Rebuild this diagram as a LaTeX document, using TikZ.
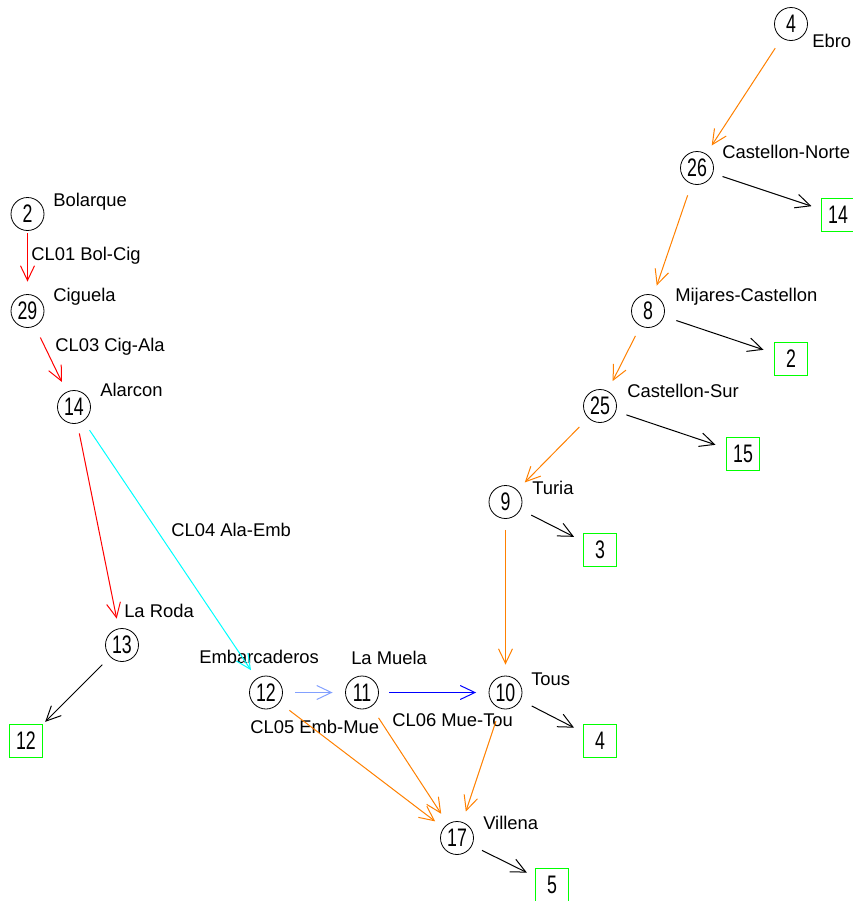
\documentclass[tikz,border=0pt]{standalone}
\usepackage{fontspec}
\setmainfont{Liberation Sans}
\newfontfamily\numfont[FakeStretch=0.7]{Liberation Sans}
\usetikzlibrary{arrows.meta}
\definecolor{cOrange}{RGB}{255,128,0}
\definecolor{cLightBlue}{RGB}{130,160,255}
\definecolor{cGreen}{RGB}{0,255,0}
\definecolor{cCyan}{RGB}{0,255,255}
\definecolor{cRed}{RGB}{255,0,0}
\definecolor{cBlue}{RGB}{0,0,255}
\tikzset{
  px/.style={x=0.75pt,y=-0.75pt},
  res/.style={circle,draw=black,line width=0.6pt,minimum size=24.75pt,inner sep=0pt,
    font=\numfont\fontsize{19}{19}\selectfont},
  outbox/.style={rectangle,draw=cGreen,line width=0.8pt,minimum size=24.75pt,inner sep=0pt,
    font=\numfont\fontsize{19}{19}\selectfont},
  lbl/.style={anchor=base west,inner sep=0pt,font=\fontsize{13.8}{16}\selectfont},
  conn/.style={line width=0.75pt,-{Straight Barb[length=11pt,width=10.5pt,line width=0.75pt]},
    shorten <=8.25pt,shorten >=8.25pt},
}
\begin{document}
\begin{tikzpicture}[px]
\useasboundingbox (0,0) rectangle (853,901);
% reservoirs
\node[res] (n4)  at (791,24)  {4};
\node[res] (n26) at (697,168) {26};
\node[res] (n8)  at (648,311) {8};
\node[res] (n25) at (600,406) {25};
\node[res] (n9)  at (505.5,502) {9};
\node[res] (n10) at (505.5,692.5) {10};
\node[res] (n17) at (457,838) {17};
\node[res] (n11) at (362,692.5) {11};
\node[res] (n12) at (266,692.5) {12};
\node[res] (n13) at (122,645) {13};
\node[res] (n14) at (74,407)  {14};
\node[res] (n29) at (27.5,311)  {29};
\node[res] (n2)  at (27.5,214)  {2};
% output boxes
\node[outbox] (b14) at (838,215) {14};
\node[outbox] (b2)  at (791,359) {2};
\node[outbox] (b15) at (743,454) {15};
\node[outbox] (b3)  at (600,550) {3};
\node[outbox] (b4)  at (600,741) {4};
\node[outbox] (b5)  at (552,885) {5};
\node[outbox] (b12) at (26,741)  {12};
% labels
\node[lbl] (l4)  at (812,47)  {Ebro};
\node[lbl] (l26) at (722,158) {Castellon-Norte};
\node[lbl] (l8)  at (675,301) {Mijares-Castellon};
\node[lbl] (l25) at (627,397) {Castellon-Sur};
\node[lbl] (l9)  at (532,494) {Turia};
\node[lbl] (l10) at (531,685) {Tous};
\node[lbl] (l17) at (483,829) {Villena};
\node[lbl] (l11) at (351,664) {La Muela};
\node[lbl] (l12) at (199,663) {Embarcaderos};
\node[lbl] (l13) at (124,617) {La Roda};
\node[lbl] (l14) at (100,396) {Alarcon};
\node[lbl] (l29) at (53,301)  {Ciguela};
\node[lbl] (l2)  at (53,206)  {Bolarque};
\node[lbl] (c01) at (31,260)  {CL01 Bol-Cig};
\node[lbl] (c03) at (55,351)  {CL03 Cig-Ala};
\node[lbl] (c04) at (171,536) {CL04 Ala-Emb};
\node[lbl] (c05) at (250,733) {CL05 Emb-Mue};
\node[lbl] (c06) at (392,726) {CL06 Mue-Tou};
% channels
\draw[conn,cRed,shorten <=1.9pt,shorten >=9.4pt] (n2) -- (n29);
\draw[conn,cRed,shorten <=9.4pt] (n29) -- (n14);
\draw[conn,cRed,shorten <=7.5pt,shorten >=7.5pt] (n14) -- (n13);
\draw[conn,cCyan,shorten >=7.5pt] (n14) -- (n12);
\draw[conn,cLightBlue,shorten <=9.4pt,shorten >=9.4pt] (n12) -- (n11);
\draw[conn,cBlue,shorten <=7.9pt,shorten >=9.4pt] (n11) -- (n10);
% orange flows
\draw[conn,cOrange,shorten <=9pt,shorten >=7.5pt] (n4) -- (n26);
\draw[conn,cOrange,shorten <=9pt,shorten >=7.5pt] (n26) -- (n8);
\draw[conn,cOrange] (n8) -- (n25);
\draw[conn,cOrange,shorten <=9.4pt,shorten >=7.9pt] (n25) -- (n9);
\draw[conn,cOrange] (n9) -- (n10);
\draw[conn,cOrange,shorten <=9.4pt,shorten >=7.9pt] (n12) -- (n17);
\draw[conn,cOrange,shorten <=10pt,shorten >=9pt] (n11) -- (n17);
\draw[conn,cOrange,shorten <=10pt] (n10) -- (n17);
% outflows
\draw[conn,black,shorten <=7.5pt,shorten >=7.5pt] (n26) -- (b14);
\draw[conn,black,shorten <=9.75pt] (n8) -- (b2);
\draw[conn,black] (n25) -- (b15);
\draw[conn,black,shorten <=9pt,shorten >=7.5pt] (n9) -- (b3);
\draw[conn,black,shorten <=9.4pt,shorten >=7.5pt] (n10) -- (b4);
\draw[conn,black,shorten >=6.75pt] (n17) -- (b5);
\draw[conn,black,shorten >=2.25pt] (n13) -- (b12);
\end{tikzpicture}
\end{document}
